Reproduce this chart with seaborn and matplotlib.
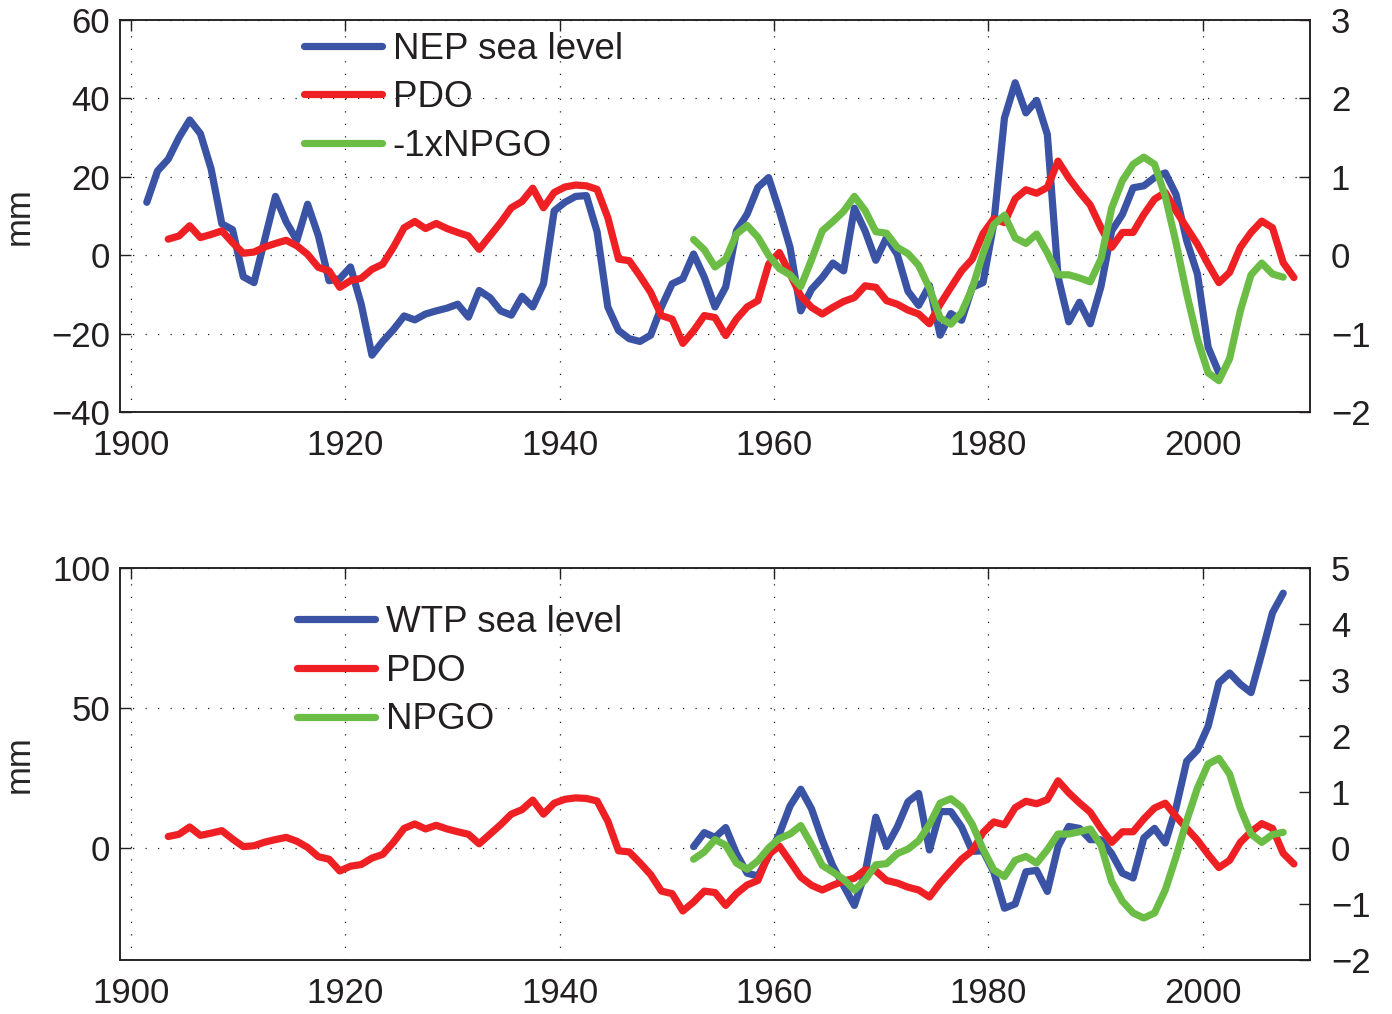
import numpy as np
import matplotlib
matplotlib.use('Agg')
import matplotlib.pyplot as plt
import seaborn as sns

# annual values, plotted at mid-year
nep_start = 1901
nep_sea_level = [13.5, 21.5, 24.5, 30, 34.5, 31, 22, 8, 6.5, -5.5,
                 -7, 4, 15, 8.5, 3.8, 13, 5, -6.5, -6, -3,
                 -12.5, -25.5, -22, -19, -15.5, -16.5, -15, -14.2, -13.5, -12.5,
                 -15.8, -9, -10.8, -14.2, -15.3, -10.5, -13.2, -7.3, 11.3, 13.5,
                 15, 15.2, 6, -13.2, -19.2, -21.3, -22, -20.4, -13.2, -7.3,
                 -6, 0.3, -5.6, -13.2, -8.1, 6.2, 10.5, 17.3, 19.8, 11.3,
                 2, -14.2, -8.7, -5.7, -2, -4, 12, 6.2, -1.3, 4.5,
                 0.2, -9.2, -12.8, -7.7, -20.4, -14.9, -16.6, -8.2, -7, 8,
                 35, 44, 36.3, 39.5, 30.8, -5.5, -17, -12, -17.5, -8,
                 6.2, 10.4, 17.2, 17.7, 19.8, 21, 15.5, 3.7, -4.8, -23.5,
                 -30]

pdo_start = 1903
pdo = [0.205, 0.245, 0.375, 0.225, 0.265, 0.31, 0.16, 0.025, 0.04, 0.105,
       0.15, 0.19, 0.12, 0.01, -0.155, -0.2, -0.41, -0.325, -0.295, -0.18,
       -0.115, 0.1, 0.35, 0.43, 0.34, 0.405, 0.34, 0.29, 0.245, 0.075,
       0.245, 0.415, 0.605, 0.685, 0.855, 0.605, 0.8, 0.87, 0.895, 0.885,
       0.84, 0.48, -0.05, -0.07, -0.265, -0.475, -0.77, -0.815, -1.125, -0.965,
       -0.77, -0.795, -1.025, -0.815, -0.66, -0.58, -0.115, 0.035, -0.24, -0.52,
       -0.665, -0.75, -0.665, -0.59, -0.54, -0.39, -0.41, -0.58, -0.625, -0.7,
       -0.75, -0.875, -0.625, -0.41, -0.2, -0.05, 0.275, 0.465, 0.415, 0.72,
       0.835, 0.79, 0.865, 1.2, 0.985, 0.805, 0.64, 0.35, 0.1, 0.29,
       0.29, 0.52, 0.715, 0.8, 0.565, 0.35, 0.14, -0.115, -0.35, -0.22,
       0.1, 0.29, 0.435, 0.35, -0.095, -0.285]

npgo_start = 1952
npgo = [-0.2, -0.07, 0.15, 0.05, -0.27, -0.38, -0.23, 0.0, 0.17, 0.25,
        0.4, 0.06, -0.31, -0.43, -0.56, -0.75, -0.57, -0.3, -0.28, -0.1,
        -0.02, 0.13, 0.42, 0.8, 0.88, 0.73, 0.42, -0.02, -0.39, -0.51,
        -0.22, -0.15, -0.27, -0.03, 0.25, 0.25, 0.29, 0.34, 0.05, -0.6,
        -0.95, -1.16, -1.25, -1.16, -0.75, -0.16, 0.49, 1.07, 1.5, 1.6,
        1.32, 0.71, 0.25, 0.1, 0.24, 0.28]

wtp_start = 1952
wtp_sea_level = [0.5, 5.5, 3.8, 7.3, -2, -9, -10, -3, 5, 15,
                 21, 14, 3, -6.5, -13.5, -20.5, -9, 11, 0.5, 7.5,
                 16.5, 19.5, -0.7, 13, 13, 7.5, -1.2, -1, -8.5, -21.5,
                 -20, -8.5, -8, -15.5, 0.5, 7.7, 7, 3, 2.9, -2,
                 -9, -10.7, 3.6, 7, 1.8, 14.3, 31, 35, 43.5, 59,
                 62.5, 58.5, 55.5, 69.5, 84, 91]

year_ticks = [1900, 1920, 1940, 1960, 1980, 2000]

blue = '#3a53a4'
red = '#ee2024'
green = '#6bbd45'


def yrs(start, vals):
    return np.arange(len(vals)) + start + 0.5


sns.set_style('white')
plt.rcParams['font.family'] = ['Liberation Sans', 'DejaVu Sans']
plt.rcParams['axes.linewidth'] = 1.1
plt.rcParams['axes.edgecolor'] = '#231f20'
plt.rcParams['text.color'] = '#231f20'
plt.rcParams['xtick.color'] = '#231f20'
plt.rcParams['ytick.color'] = '#231f20'

fig = plt.figure(figsize=(13.92, 10.14), dpi=100)
W, H = 1392, 1014
lw = 5.2


def make_panel(top_px, left_lim, left_ticks, right_lim, sea, sea_start, sea_label, npgo_sign, npgo_label, leg_anchor):
    ax = fig.add_axes([120 / W, 1 - (top_px + 392) / H, 1190 / W, 392 / H])
    axr = ax.twinx()

    sns.lineplot(x=yrs(sea_start, sea), y=sea, ax=ax, color=blue, linewidth=lw, label=sea_label, legend=False)
    sns.lineplot(x=yrs(pdo_start, pdo), y=pdo, ax=axr, color=red, linewidth=lw, label='PDO', legend=False)
    sns.lineplot(x=yrs(npgo_start, npgo), y=npgo_sign * np.array(npgo), ax=axr, color=green,
                 linewidth=lw, label=npgo_label, legend=False)

    ax.set_xlim(1899, 2010)
    ax.set_ylim(*left_lim)
    ax.set_yticks(left_ticks)
    ax.set_xticks(year_ticks)
    axr.set_ylim(*right_lim)
    axr.set_yticks(np.arange(right_lim[0], right_lim[1] + 1))
    ax.set_xlabel('')
    ax.set_ylabel('mm', fontsize=25)
    ax.yaxis.set_label_coords(-0.071, 0.5)

    ax.grid(True, linestyle=(0, (1, 9)), color='#231f20', linewidth=0.9)
    ax.tick_params(axis='x', direction='in', length=8, width=1, top=True, labelsize=25, pad=12)
    ax.tick_params(axis='y', direction='in', length=8, width=1, right=False, labelsize=25, pad=7)
    axr.tick_params(axis='y', direction='in', length=8, width=1, labelsize=25, pad=15)
    for a in (ax, axr):
        for s in a.spines.values():
            s.set_visible(True)

    handles = ax.get_lines()[:1] + axr.get_lines()[:2]
    axr.legend(handles=handles, labels=[sea_label, 'PDO', npgo_label], loc='upper left',
               bbox_to_anchor=leg_anchor, frameon=False, fontsize=26.5, handlelength=2.1,
               handletextpad=0.3, labelspacing=0.37, borderpad=0, borderaxespad=0)
    return ax, axr


make_panel(20, (-40, 60), [-40, -20, 0, 20, 40, 60], (-2, 3), nep_sea_level, nep_start,
           'NEP sea level', -1, '-1xNPGO', (0.155, 0.97))
make_panel(568, (-40, 100), [0, 50, 100], (-2, 5), wtp_sea_level, wtp_start,
           'WTP sea level', 1, 'NPGO', (0.149, 0.905))

fig.savefig('out.png', dpi=100)
